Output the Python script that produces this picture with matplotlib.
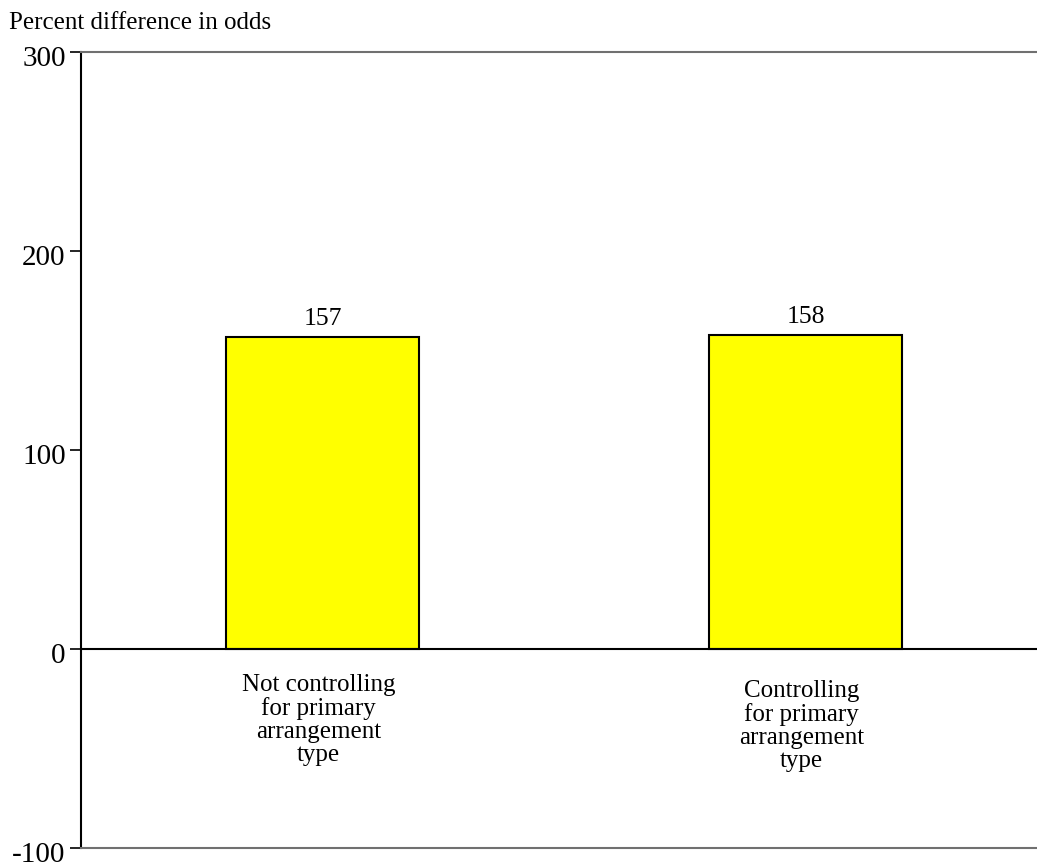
import matplotlib
matplotlib.use("Agg")
import matplotlib.pyplot as plt
import matplotlib.transforms as mtransforms

categories = ["Not controlling\nfor primary\narrangement\ntype",
              "Controlling\nfor primary\narrangement\ntype"]
values = [157, 158]
yticks = [-100, 0, 100, 200, 300]

plt.rcParams["font.family"] = ["Liberation Serif", "DejaVu Serif"]

fig = plt.figure(figsize=(10.37, 8.67), dpi=100)
ax = fig.add_axes([81 / 1037, 1 - 848 / 867, 966 / 1037, 796 / 867])

x = list(range(len(values)))
bars = ax.bar(x, values, width=0.4, color="#ffff00", edgecolor="black",
              linewidth=1.5, zorder=2)
for xi, v in zip(x, values):
    ax.text(xi, v + 6, str(v), ha="center", va="baseline", fontsize=18.5)

ax.axhline(0, color="black", linewidth=1.5, zorder=3)

ax.set_xlim(-0.5, 1.5)
ax.set_ylim(-100, 300)
ax.set_yticks(yticks)
ax.set_yticklabels([str(t) for t in yticks], fontsize=21)
ax.set_xticks([])
ax.tick_params(axis="y", direction="out", length=8, width=1.2, pad=3)

# nudge the y tick labels slightly below their ticks
shift = mtransforms.ScaledTranslation(0, -4 / 100, fig.dpi_scale_trans)
for lbl in ax.get_yticklabels():
    lbl.set_transform(lbl.get_transform() + shift)

for xi, lab, off in zip(x, categories, [-12.5, -15.5]):
    ax.text(xi - 0.008, off, lab, ha="center", va="top", fontsize=18,
            linespacing=1.06)

ax.spines["right"].set_visible(False)
ax.spines["left"].set_linewidth(1.5)
for s in ("top", "bottom"):
    ax.spines[s].set_color("#707070")
    ax.spines[s].set_linewidth(1.5)

fig.text(9 / 1037, 1 - 12 / 867, "Percent difference in odds",
         ha="left", va="top", fontsize=18)

fig.savefig("out.png", dpi=100)
